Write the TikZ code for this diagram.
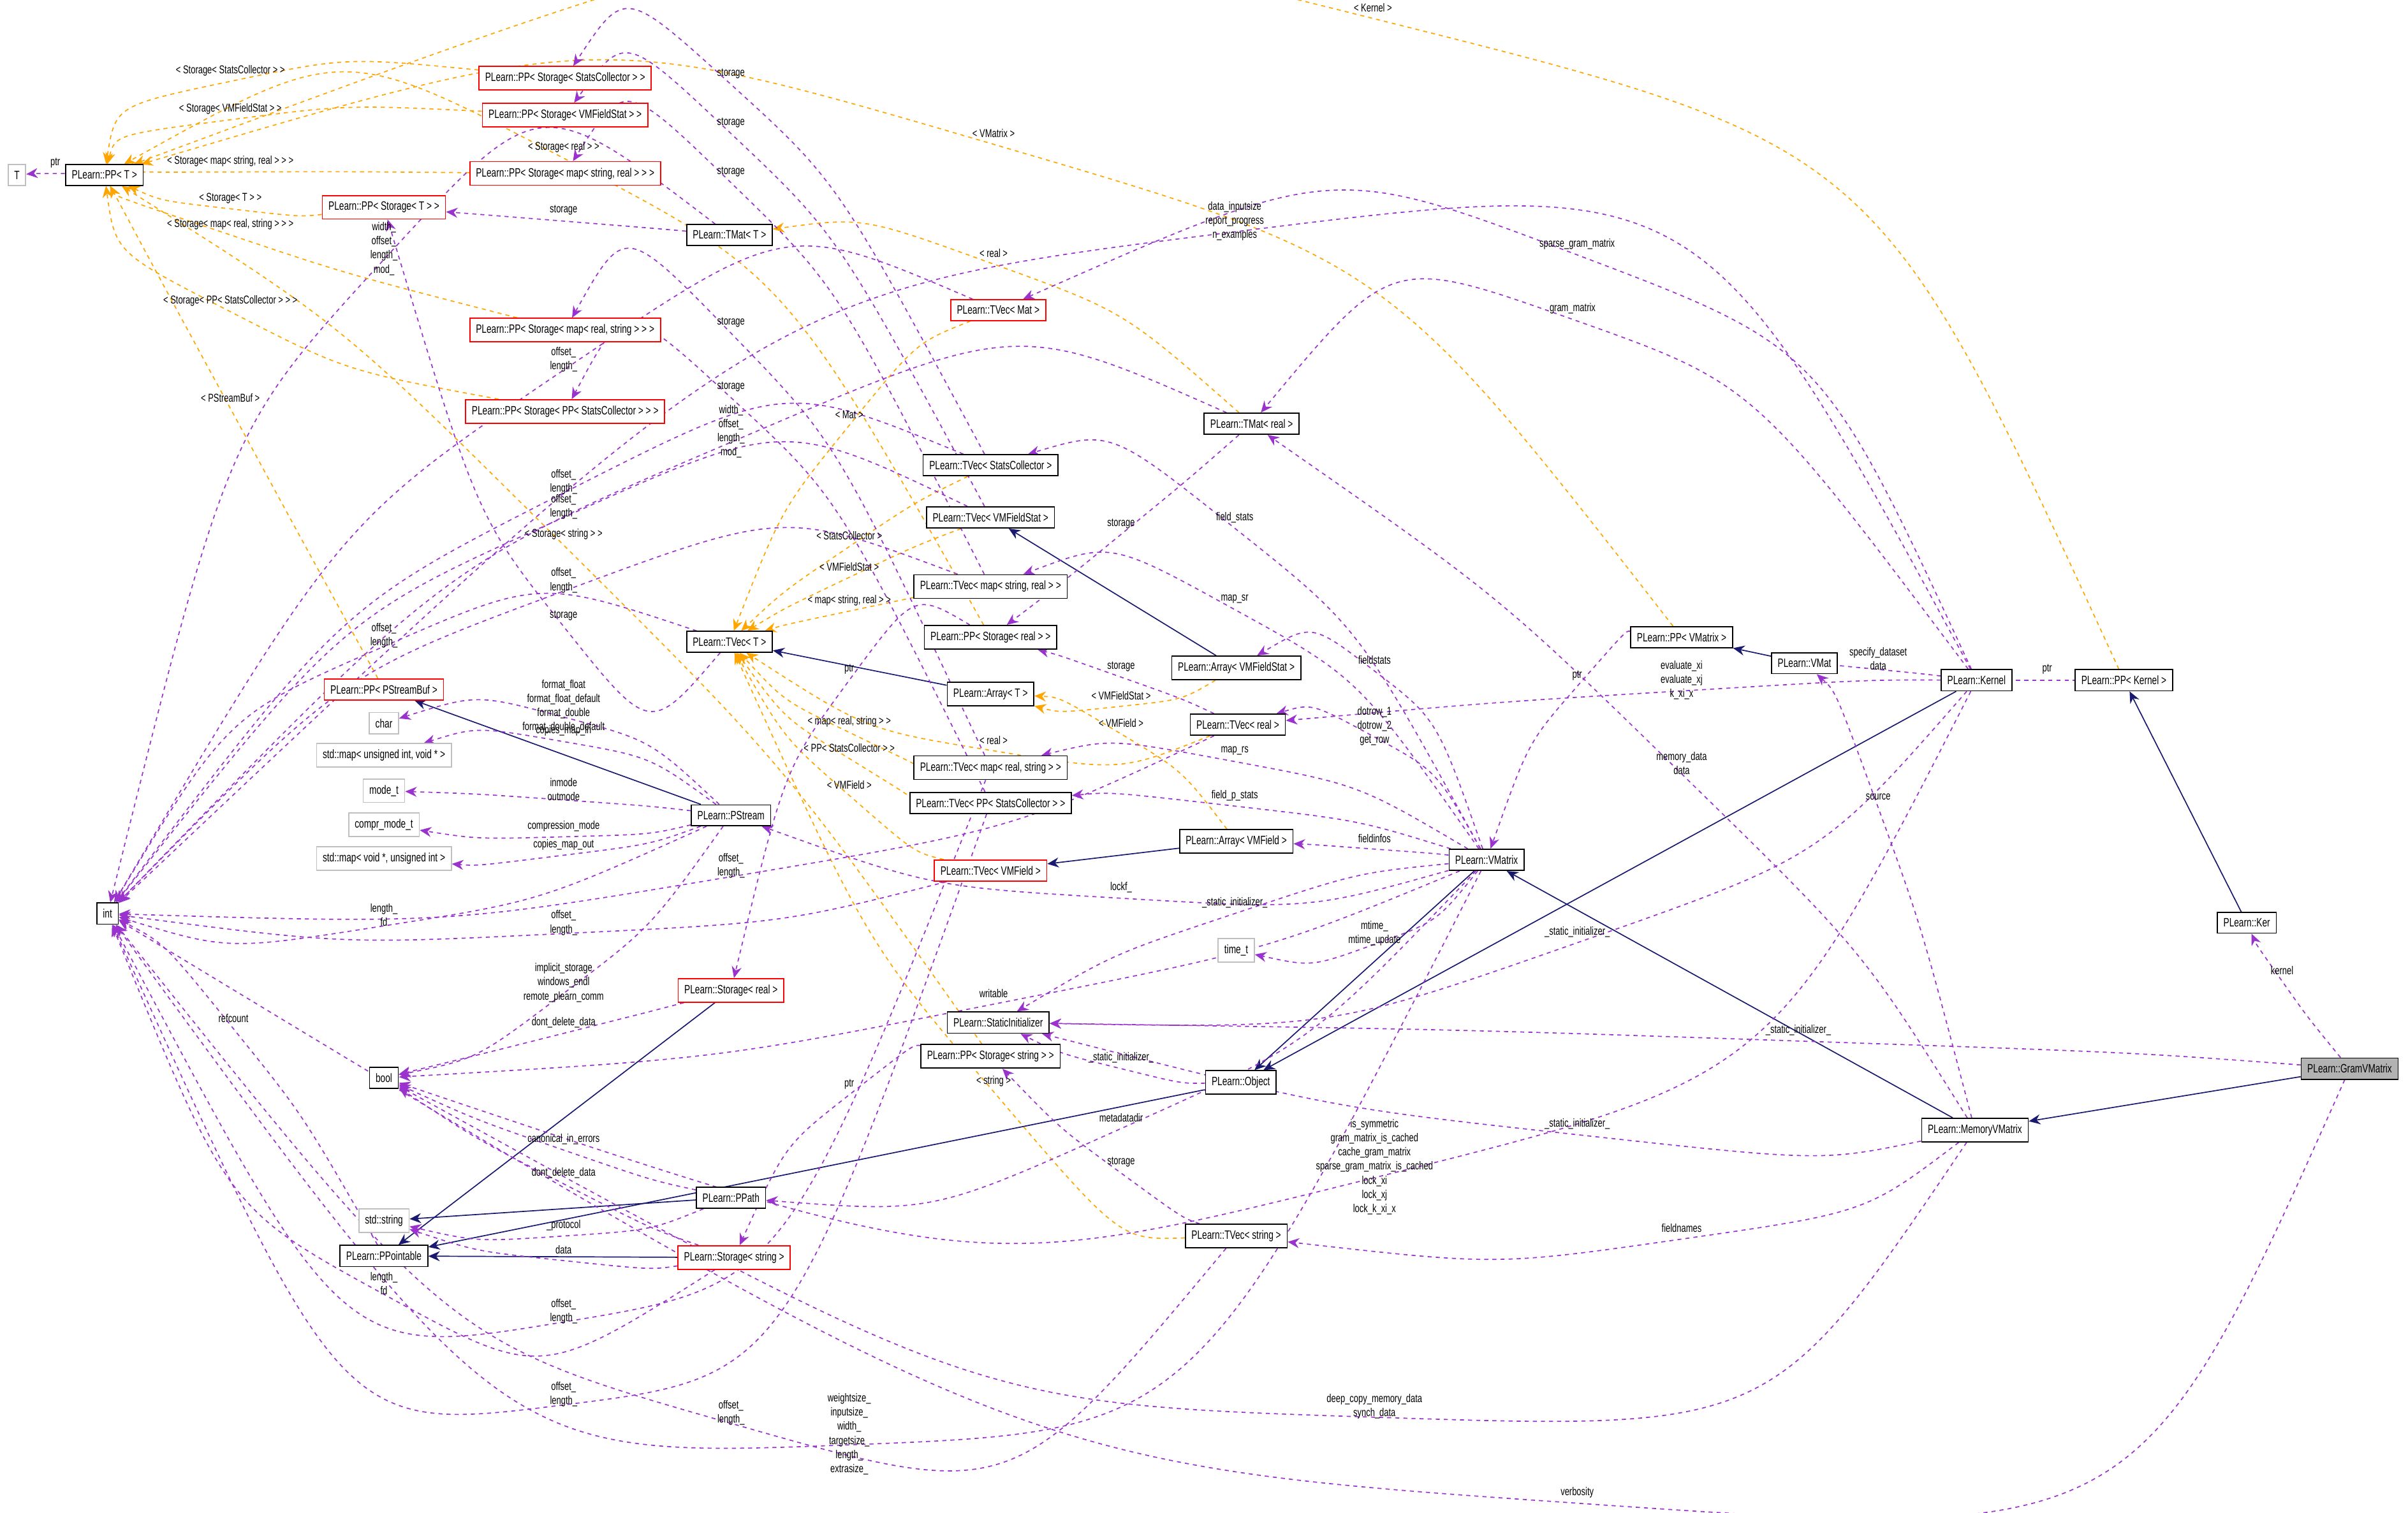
\documentclass[tikz,border=0pt]{standalone}
\usepackage{fontspec}
\setmainfont[FakeStretch=0.72]{Liberation Sans}
\usetikzlibrary{arrows.meta,calc,backgrounds}
\definecolor{usecol}{HTML}{9A32CD}
\definecolor{tplcol}{HTML}{FFA500}
\definecolor{isacol}{HTML}{191970}
\tikzset{
  cls/.style={draw=black,thick,fill=white,inner sep=1.6mm,minimum height=5mm,font=\fontsize{9}{10}\selectfont},
  undoc/.style={cls,draw=red},
  ext/.style={cls,draw=black!25},
  cur/.style={cls,fill=black!30},
  lbl/.style={align=center,inner sep=0pt,text=black,font=\fontsize{8.5}{10.5}\selectfont},
  usearr/.style={usecol,dashed,thick,-{Stealth[length=3mm,width=2.6mm]}},
  tplarr/.style={tplcol,dashed,thick,-{Stealth[length=3mm,width=2.6mm]}},
  isaarr/.style={isacol,thick,-{Stealth[length=3mm,width=2.6mm]}}
}
% curved link from #1 to #2 running just under the label at #3
\newcommand\via[4]{\begin{pgfonlayer}{background}\draw[#1] (#2)
  .. controls ($(#4)+(0,7)-0.25*(#3)+0.25*(#2)$) .. ($(#4)+(0,7)$)
  .. controls ($(#4)+(0,7)+0.25*(#3)-0.25*(#2)$) .. (#3);\end{pgfonlayer}}
\newcommand\lnk[4]{\via{usearr}{#1}{#2}{#3}\node[lbl] at (#3) {#4};}
\newcommand\tmpl[4]{\via{tplarr}{#1}{#2}{#3}\node[lbl] at (#3) {#4};}
\newcommand\isa[2]{\begin{pgfonlayer}{background}\draw[isaarr] (#1) -- (#2);\end{pgfonlayer}}
\begin{document}
\begin{tikzpicture}[x=0.4mm,y=-0.4mm]
\useasboundingbox (0,0) rectangle (1568,985);
% classes
\node[ext] (T) at (11,114) {T};
\node[cls] (PPT) at (68,114) {PLearn::PP< T >};
\node[undoc] (PPSSC) at (368,51) {PLearn::PP< Storage< StatsCollector > >};
\node[undoc] (PPSVF) at (368,75) {PLearn::PP< Storage< VMFieldStat > >};
\node[undoc] (PPSMSR) at (368,113) {PLearn::PP< Storage< map< string, real > > >};
\node[undoc] (PPST) at (250,135) {PLearn::PP< Storage< T > >};
\node[cls] (TMatT) at (475,153) {PLearn::TMat< T >};
\node[undoc] (PPSMRS) at (368,215) {PLearn::PP< Storage< map< real, string > > >};
\node[undoc] (PPSPPSC) at (368,268) {PLearn::PP< Storage< PP< StatsCollector > > >};
\node[undoc] (TVecMat) at (650,202) {PLearn::TVec< Mat >};
\node[cls] (TMatReal) at (815,276) {PLearn::TMat< real >};
\node[cls] (TVecSC) at (645,303) {PLearn::TVec< StatsCollector >};
\node[cls] (TVecVFS) at (645,337) {PLearn::TVec< VMFieldStat >};
\node[cls] (TVecMSR) at (645,382) {PLearn::TVec< map< string, real > >};
\node[cls] (TVecT) at (475,418) {PLearn::TVec< T >};
\node[cls] (PPSReal) at (645,415) {PLearn::PP< Storage< real > >};
\node[cls] (ArrVFS) at (805,435) {PLearn::Array< VMFieldStat >};
\node[cls] (ArrT) at (645,452) {PLearn::Array< T >};
\node[cls] (TVecReal) at (806,472) {PLearn::TVec< real >};
\node[cls] (TVecMRS) at (645,500) {PLearn::TVec< map< real, string > >};
\node[cls] (TVecPPSC) at (645,523) {PLearn::TVec< PP< StatsCollector > >};
\node[cls] (ArrVF) at (805,548) {PLearn::Array< VMField >};
\node[undoc] (TVecVF) at (645,567) {PLearn::TVec< VMField >};
\node[undoc] (PPPSB) at (250,449) {PLearn::PP< PStreamBuf >};
\node[ext] (char) at (250,471) {char};
\node[ext] (mapuiv) at (250,492) {std::map< unsigned int, void * >};
\node[ext] (modet) at (250,515) {mode\_t};
\node[ext] (comprmode) at (250,537) {compr\_mode\_t};
\node[ext] (mapvui) at (250,559) {std::map< void *, unsigned int >};
\node[cls] (PStream) at (476,531) {PLearn::PStream};
\node[cls] (int) at (70,595) {int};
\node[undoc] (StorageReal) at (476,645) {PLearn::Storage< real >};
\node[cls] (bool) at (250,702) {bool};
\node[cls] (PPath) at (476,780) {PLearn::PPath};
\node[ext] (stdstring) at (250,795) {std::string};
\node[cls] (PPointable) at (250,818) {PLearn::PPointable};
\node[undoc] (StorageString) at (478,819) {PLearn::Storage< string >};
\node[cls] (StaticInit) at (650,666) {PLearn::StaticInitializer};
\node[cls] (PPSString) at (645,688) {PLearn::PP< Storage< string > >};
\node[cls] (Object) at (808,705) {PLearn::Object};
\node[cls] (TVecString) at (805,805) {PLearn::TVec< string >};
\node[ext] (timet) at (805,619) {time\_t};
\node[cls] (VMatrix) at (968,560) {PLearn::VMatrix};
\node[cls] (PPVMatrix) at (1095,415) {PLearn::PP< VMatrix >};
\node[cls] (VMat) at (1175,432) {PLearn::VMat};
\node[cls] (Kernel) at (1287,443) {PLearn::Kernel};
\node[cls] (PPKernel) at (1383,443) {PLearn::PP< Kernel >};
\node[cls] (Ker) at (1463,601) {PLearn::Ker};
\node[cur] (Gram) at (1530,696) {PLearn::GramVMatrix};
\node[cls] (MemVM) at (1286,736) {PLearn::MemoryVMatrix};
% templates
\tmpl{PPSSC}{PPT}{150,46}{< Storage< StatsCollector > >}
\tmpl{PPSVF}{PPT}{150,71}{< Storage< VMFieldStat > >}
\tmpl{PPSReal}{PPT}{367,96}{< Storage< real > >}
\tmpl{PPSMSR}{PPT}{150,105}{< Storage< map< string, real > > >}
\tmpl{PPST}{PPT}{150,129}{< Storage< T > >}
\tmpl{PPSMRS}{PPT}{150,146}{< Storage< map< real, string > > >}
\tmpl{PPSPPSC}{PPT}{150,196}{< Storage< PP< StatsCollector > > >}
\tmpl{PPPSB}{PPT}{150,259}{< PStreamBuf >}
\tmpl{PPSString}{PPT}{367,348}{< Storage< string > >}
\tmpl{PPKernel}{PPT}{894,5}{< Kernel >}
\tmpl{PPVMatrix}{PPT}{647,87}{< VMatrix >}
\tmpl{TMatReal}{TMatT}{647,165}{< real >}
\tmpl{TVecMat}{TVecT}{553,270}{< Mat >}
\tmpl{TVecSC}{TVecT}{553,349}{< StatsCollector >}
\tmpl{TVecVFS}{TVecT}{553,369}{< VMFieldStat >}
\tmpl{TVecMSR}{TVecT}{553,391}{< map< string, real > >}
\tmpl{TVecReal}{TVecT}{647,482}{< real >}
\tmpl{TVecMRS}{TVecT}{553,470}{< map< real, string > >}
\tmpl{TVecPPSC}{TVecT}{553,487}{< PP< StatsCollector > >}
\tmpl{TVecVF}{TVecT}{553,511}{< VMField >}
\tmpl{TVecString}{TVecT}{647,704}{< string >}
\tmpl{ArrVFS}{ArrT}{730,453}{< VMFieldStat >}
\tmpl{ArrVF}{ArrT}{730,471}{< VMField >}
% inheritance
\isa{PStream}{PPPSB}
\isa{PPath}{stdstring}
\isa{StorageReal}{PPointable}
\isa{StorageString}{PPointable}
\isa{Object}{PPointable}
\isa{ArrVFS}{TVecVFS}
\isa{ArrT}{TVecT}
\isa{ArrVF}{TVecVF}
\isa{VMatrix}{Object}
\isa{Kernel}{Object}
\isa{MemVM}{VMatrix}
\isa{Gram}{MemVM}
\isa{Ker}{PPKernel}
\isa{VMat}{PPVMatrix}
% members
\lnk{PPT}{T}{36,106}{ptr}
\lnk{TVecSC}{PPSSC}{476,48}{storage}
\lnk{TVecVFS}{PPSVF}{476,80}{storage}
\lnk{TVecMSR}{PPSMSR}{476,112}{storage}
\lnk{TVecMRS}{PPSMRS}{476,210}{storage}
\lnk{TVecPPSC}{PPSPPSC}{476,252}{storage}
\lnk{TMatT}{PPST}{367,137}{storage}
\lnk{TVecT}{PPST}{367,401}{storage}
\lnk{TMatReal}{PPSReal}{730,341}{storage}
\lnk{TVecReal}{PPSReal}{730,434}{storage}
\lnk{TVecString}{PPSString}{730,757}{storage}
\lnk{PPSReal}{StorageReal}{553,436}{ptr}
\lnk{PPSString}{StorageString}{553,706}{ptr}
\lnk{TMatT}{int}{250,162}{width\_\\offset\_\\length\_\\mod\_}
\lnk{TVecMat}{int}{367,234}{offset\_\\length\_}
\lnk{TMatReal}{int}{476,281}{width\_\\offset\_\\length\_\\mod\_}
\lnk{TVecSC}{int}{367,314}{offset\_\\length\_}
\lnk{TVecVFS}{int}{367,330}{offset\_\\length\_}
\lnk{TVecMSR}{int}{367,378}{offset\_\\length\_}
\lnk{TVecT}{int}{250,414}{offset\_\\length\_}
\lnk{TVecReal}{int}{476,564}{offset\_\\length\_}
\lnk{TVecVF}{int}{367,601}{offset\_\\length\_}
\lnk{PStream}{int}{250,596}{length\_\\fd}
\lnk{PPointable}{int}{152,663}{refcount}
\lnk{StorageString}{int}{250,836}{length\_\\fd}
\lnk{TVecMRS}{int}{367,854}{offset\_\\length\_}
\lnk{TVecPPSC}{int}{367,908}{offset\_\\length\_}
\lnk{TVecString}{int}{476,920}{offset\_\\length\_}
\lnk{VMatrix}{int}{553,934}{weightsize\_\\inputsize\_\\width\_\\targetsize\_\\length\_\\extrasize\_}
\lnk{Gram}{int}{1027,972}{verbosity}
\lnk{Kernel}{int}{804,144}{data\_inputsize\\report\_progress\\n\_examples}
\lnk{PStream}{char}{367,460}{format\_float\\format\_float\_default\\format\_double\\format\_double\_default}
\lnk{PStream}{mapuiv}{367,476}{copies\_map\_in}
\lnk{PStream}{modet}{367,514}{inmode\\outmode}
\lnk{PStream}{comprmode}{367,538}{compression\_mode}
\lnk{PStream}{mapvui}{367,550}{copies\_map\_out}
\lnk{PStream}{bool}{367,640}{implicit\_storage\\windows\_endl\\remote\_plearn\_comm}
\lnk{StorageReal}{bool}{367,666}{dont\_delete\_data}
\lnk{PPath}{bool}{367,742}{canonical\_in\_errors}
\lnk{StorageString}{bool}{367,764}{dont\_delete\_data}
\lnk{PPath}{stdstring}{367,798}{\_protocol}
\lnk{StorageString}{stdstring}{367,814}{data}
\lnk{VMatrix}{bool}{647,647}{writable}
\lnk{Kernel}{bool}{895,760}{is\_symmetric\\gram\_matrix\_is\_cached\\cache\_gram\_matrix\\sparse\_gram\_matrix\_is\_cached\\lock\_xi\\lock\_xj\\lock\_k\_xi\_x}
\lnk{VMatrix}{TVecSC}{804,337}{field\_stats}
\lnk{VMatrix}{TVecMSR}{804,390}{map\_sr}
\lnk{VMatrix}{ArrVFS}{895,430}{fieldstats}
\lnk{VMatrix}{TVecReal}{895,473}{dotrow\_1\\dotrow\_2\\get\_row}
\lnk{VMatrix}{TVecMRS}{804,489}{map\_rs}
\lnk{VMatrix}{TVecPPSC}{804,518}{field\_p\_stats}
\lnk{VMatrix}{ArrVF}{895,546}{fieldinfos}
\lnk{VMatrix}{PStream}{730,578}{lockf\_}
\lnk{VMatrix}{StaticInit}{804,588}{\_static\_initializer\_}
\lnk{VMatrix}{timet}{895,608}{mtime\_\\mtime\_update}
\lnk{VMatrix}{PPath}{730,728}{metadatadir}
\lnk{MemVM}{TVecString}{1095,800}{fieldnames}
\lnk{MemVM}{bool}{895,916}{deep\_copy\_memory\_data\\synch\_data}
\lnk{Object}{StaticInit}{730,689}{\_static\_initializer\_}
\lnk{Kernel}{StaticInit}{1027,607}{\_static\_initializer\_}
\lnk{MemVM}{StaticInit}{1027,732}{\_static\_initializer\_}
\lnk{Gram}{StaticInit}{1171,671}{\_static\_initializer\_}
\lnk{PPVMatrix}{VMatrix}{1027,440}{ptr}
\lnk{Kernel}{VMat}{1223,429}{specify\_dataset\\data}
\lnk{MemVM}{VMat}{1223,519}{source}
\lnk{Kernel}{TVecReal}{1095,443}{evaluate\_xi\\evaluate\_xj\\k\_xi\_x}
\lnk{Kernel}{TMatReal}{1024,201}{gram\_matrix}
\lnk{Kernel}{TVecMat}{1027,159}{sparse\_gram\_matrix}
\lnk{MemVM}{TMatReal}{1095,497}{memory\_data\\data}
\lnk{PPKernel}{Kernel}{1333,436}{ptr}
\lnk{Gram}{Ker}{1486,632}{kernel}
\end{tikzpicture}
\end{document}
